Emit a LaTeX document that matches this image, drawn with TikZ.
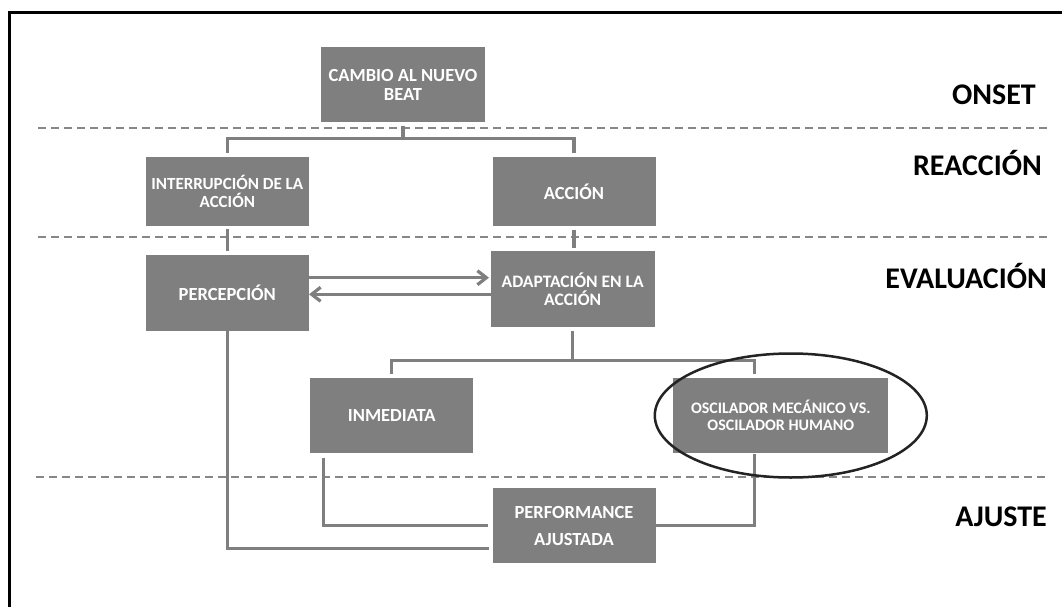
\documentclass[tikz,border=0pt]{standalone}
\usepackage{fontspec}
\setmainfont{Carlito}
\usetikzlibrary{arrows.meta}
\definecolor{boxgray}{RGB}{127,127,127}
\definecolor{linegray}{RGB}{127,127,127}
\definecolor{dashgray}{RGB}{135,135,135}
\definecolor{ringcol}{RGB}{35,35,35}
\begin{document}
\begin{tikzpicture}[x=1pt,y=-1pt,
  box/.style={fill=boxgray, text=white, font=\bfseries\fontsize{18.5}{19}\selectfont, align=center, inner sep=0pt, anchor=center},
  conn/.style={draw=linegray, line width=3.2pt},
  sep/.style={draw=dashgray, line width=2pt, dash pattern=on 8pt off 5pt},
  arr/.style={conn, -{Straight Barb[length=9pt,width=14pt]}},
  lab/.style={font=\bfseries\fontsize{30}{34}\selectfont, inner sep=0pt, anchor=base east},
  ring/.style={draw=ringcol, line width=2.5pt}]
\fill[white] (0,0) rectangle (1062,607);
\useasboundingbox (0,0) rectangle (1062,607);
% frame
\draw[line width=3pt, line join=miter] (9.8,607) -- (9.8,12.7) -- (1062,12.7);
% separators
\draw[sep] (38,128.5) -- (1048,128.5);
\draw[sep] (38,236.5) -- (1048,236.5);
\draw[sep] (36,477) -- (1046,477);
% boxes
\node[box, minimum width=164pt, minimum height=75pt] (cambio) at (403,84.5) {CAMBIO AL NUEVO\\BEAT};
\node[box, minimum width=163pt, minimum height=69pt, font=\bfseries\fontsize{17}{18.5}\selectfont] (interr) at (227.3,191.5) {INTERRUPCIÓN DE LA\\ACCIÓN};
\node[box, minimum width=163pt, minimum height=69pt] (accion) at (574,191.5) {ACCIÓN};
\node[box, minimum width=163pt, minimum height=75.7pt] (percep) at (227.3,292.9) {PERCEPCIÓN};
\node[box, minimum width=164pt, minimum height=75.7pt, font=\bfseries\fontsize{17.5}{18.5}\selectfont] (adapt) at (572.7,289.2) {ADAPTACIÓN EN LA\\ACCIÓN};
\node[box, minimum width=163.5pt, minimum height=75pt] (inm) at (391.7,415.8) {INMEDIATA};
\node[box, minimum width=215pt, minimum height=75.6pt, font=\bfseries\fontsize{16}{16.5}\selectfont] (osc) at (780.8,415.5) {OSCILADOR MECÁNICO VS.\\OSCILADOR HUMANO};
\node[box, minimum width=163pt, minimum height=75pt, font=\bfseries\fontsize{18.5}{26.5}\selectfont] (perf) at (574,525.8) {PERFORMANCE\\AJUSTADA};
% tree 1
\draw[conn] ([yshift=-4pt]cambio.south) -- ++(0,12) coordinate (j1);
\draw[conn] ([yshift=4pt]interr.north) |- (j1) -| ([yshift=4pt]accion.north);
% verticals
\draw[conn, shorten <=3pt, shorten >=4pt] (interr.south) -- (percep.north);
\draw[conn, shorten <=4pt, shorten >=3pt] (accion.south) -- (accion.south |- adapt.north);
% arrows
\coordinate (a1) at ([yshift=15.2pt]percep.east);
\draw[arr, shorten >=1.5pt] (a1) -- (a1 -| adapt.west);
\coordinate (a2) at ([yshift=-5.1pt]adapt.west);
\draw[arr] (a2) -- (a2 -| percep.east);
% tree 2
\draw[conn] ([yshift=-4pt]adapt.south) -- ++(0,29) coordinate (j2);
\draw[conn] ([yshift=4pt]inm.north) |- (j2) -| ([xshift=-26pt,yshift=4pt]osc.north);
% to performance
\draw[conn] ([xshift=14pt,yshift=-4pt]inm.south west) |- ([xshift=-4pt]perf.west);
\draw[conn] (percep.south) |- ([xshift=-3pt,yshift=-22.5pt]perf.west);
\draw[conn] ([xshift=-26pt]osc.south) |- (perf.east);
% ellipse
\draw[ring] ([xshift=10pt]osc.center) ellipse [x radius=136pt, y radius=62pt];
% labels
\node[lab] (onset) at (1036,105) {ONSET};
\node[lab] (reac) at (1042,175) {REACCIÓN};
\node[lab] (eval) at (1047,288) {EVALUACIÓN};
\node[lab] (ajuste) at (1047,526) {AJUSTE};
\end{tikzpicture}
\end{document}
